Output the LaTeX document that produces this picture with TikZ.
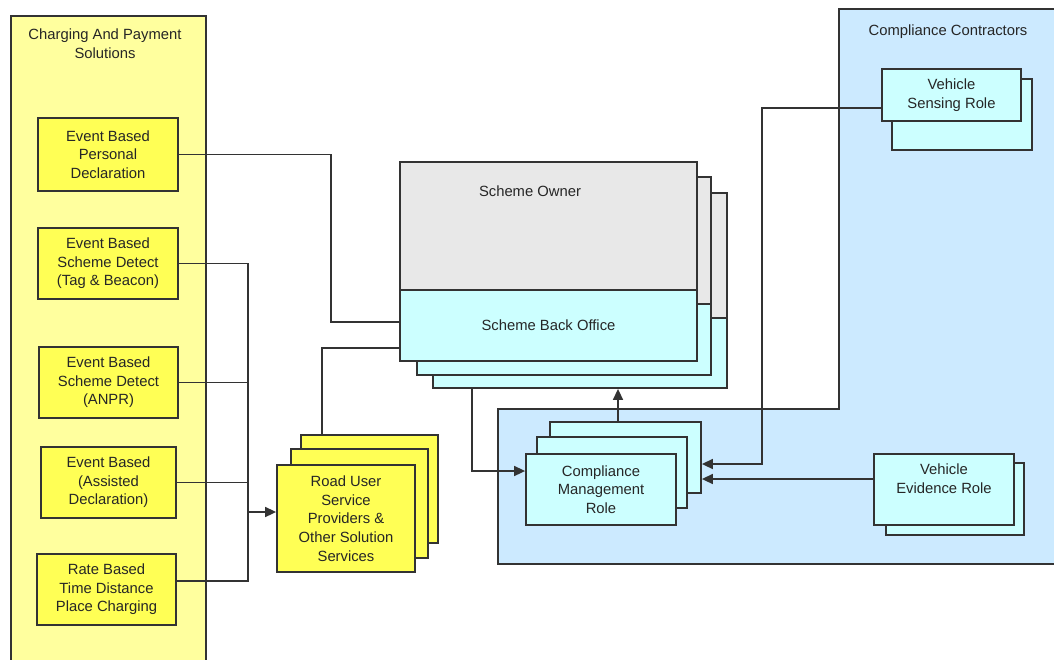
\documentclass[tikz,border=0pt]{standalone}
\usepackage{fontspec}
\setmainfont{Liberation Sans}
\usetikzlibrary{arrows.meta,calc}
\definecolor{panelY}{HTML}{FFFF9E}
\definecolor{boxY}{HTML}{FFFF55}
\definecolor{grayF}{HTML}{E8E8E8}
\definecolor{cyanF}{HTML}{CCFFFF}
\definecolor{panelB}{HTML}{CCEAFF}
\definecolor{edgeC}{HTML}{333333}
\definecolor{txtC}{HTML}{262626}
\begin{document}
\begin{tikzpicture}[x=1pt,y=-1pt,
  bx/.style={draw=edgeC, line width=1.8pt, inner sep=0pt, align=center, text=txtC,
    font=\fontsize{14.8}{18.6}\selectfont},
  ybox/.style={bx, fill=boxY},
  cbox/.style={bx, fill=cyanF},
  gbox/.style={bx, fill=grayF},
  lbl/.style={align=center, text=txtC, inner sep=0pt, font=\fontsize{14.8}{18.6}\selectfont},
  wire/.style={draw=edgeC, line width=1.6pt},
  arr/.style={wire, -{Triangle[length=11pt,width=10pt]}}]
\useasboundingbox (0,0) rectangle (1054,659);
\clip (0,0) rectangle (1054,659);
\fill[white] (0,0) rectangle (1054,659);

% left panel
\node[bx, fill=panelY, minimum width=195, minimum height=670, anchor=north west] (cps) at (10,15) {};
\node[lbl] (cpsT) at (105,43.5) {Charging And Payment\\Solutions};

% right panel
\draw[fill=panelB, draw=edgeC, line width=1.8pt] (839,9) -- (1075,9) -- (1075,564) -- (498,564) -- (498,409) -- (839,409) -- cycle;
\node[lbl] (ccT) at (948,32) {Compliance Contractors};

% event boxes
\node[ybox, minimum width=140, minimum height=73] (b1) at (108,154.5) {Event Based\\Personal\\Declaration};
\node[ybox, minimum width=140, minimum height=71] (b2) at (108,263.5) {Event Based\\Scheme Detect\\(Tag \& Beacon)};
\node[ybox, minimum width=139, minimum height=71] (b3) at (108.5,382.5) {Event Based\\Scheme Detect\\(ANPR)};
\node[ybox, minimum width=135, minimum height=71] (b4) at (108.5,482.5) {Event Based\\(Assisted\\Declaration)};
\node[ybox, minimum width=139, minimum height=71] (b5) at (106.5,589.5) {Rate Based\\Time Distance\\Place Charging};

% road user stack
\node[ybox, minimum width=137, minimum height=108] (r3) at (369.5,489) {};
\node[ybox, minimum width=137, minimum height=109] (r2) at (359.5,503.5) {};
\node[ybox, minimum width=138, minimum height=107] (r1) at (346,518.5) {Road User\\Service\\Providers \&\\Other Solution\\Services};

% scheme owner stack
\node[gbox, minimum width=294, minimum height=125] (so3) at (580,255.5) {};
\node[cbox, minimum width=294, minimum height=70] (sbo3) at (580,353) {};
\node[gbox, minimum width=294, minimum height=127] (so2) at (564,240.5) {};
\node[cbox, minimum width=294, minimum height=71] (sbo2) at (564,339.5) {};
\node[gbox, minimum width=297, minimum height=128] (so1) at (548.5,226) {};
\node[cbox, minimum width=297, minimum height=71] (sbo1) at (548.5,325.5) {Scheme Back Office};
\node[lbl] (soT) at (530,191) {Scheme Owner};

% vehicle sensing
\node[cbox, minimum width=140, minimum height=71] (vs2) at (962,114.5) {};
\node[cbox, minimum width=139, minimum height=52] (vs1) at (951.5,95) {Vehicle\\Sensing Role};

% compliance management
\node[cbox, minimum width=151, minimum height=71] (cm3) at (625.5,457.5) {};
\node[cbox, minimum width=150, minimum height=71] (cm2) at (612,472.5) {};
\node[cbox, minimum width=150, minimum height=71] (cm1) at (601,489.5) {Compliance\\Management\\Role};

% vehicle evidence
\node[cbox, minimum width=138, minimum height=72] (ve2) at (955,499) {};
\node[cbox, minimum width=140, minimum height=71] (ve1) at (944,489.5) {};
\node[lbl] (veT) at (944,478.5) {Vehicle\\Evidence Role};

% connectors
\coordinate (j1) at (331,322);
\draw[wire] (b1.east) -| (j1) -- (j1 -| sbo1.west);

\coordinate (bus5) at (248,581);
\draw[wire] (b2.east) -| (bus5) -- (bus5 -| b5.east);
\draw[wire] (b3.east) -- (b3.east -| bus5);
\draw[wire] (b4.east) -- (b4.east -| bus5);
\coordinate (busA) at (248,512);
\draw[arr] (busA) -- (busA -| r1.west);

\coordinate (rj) at (322,348);
\draw[wire] (r3.north -| rj) -- (rj) -- (rj -| sbo1.west);

\coordinate (sj) at (472,471);
\draw[arr] (sbo3.south -| sj) -- (sj) -- (sj -| cm1.west);

\coordinate (uj) at (618,400);
\draw[arr] (cm3.north -| uj) -- (sbo3.south -| uj);

\coordinate (vsj) at (762,108);
\coordinate (vj) at (762,464);
\draw[arr] (vsj -| vs1.west) -- (vsj) -- (vj) -- (vj -| cm3.east);

\coordinate (vej) at (874,479);
\draw[arr] (vej -| ve1.west) -- (vej -| cm3.east);
\end{tikzpicture}
\end{document}
